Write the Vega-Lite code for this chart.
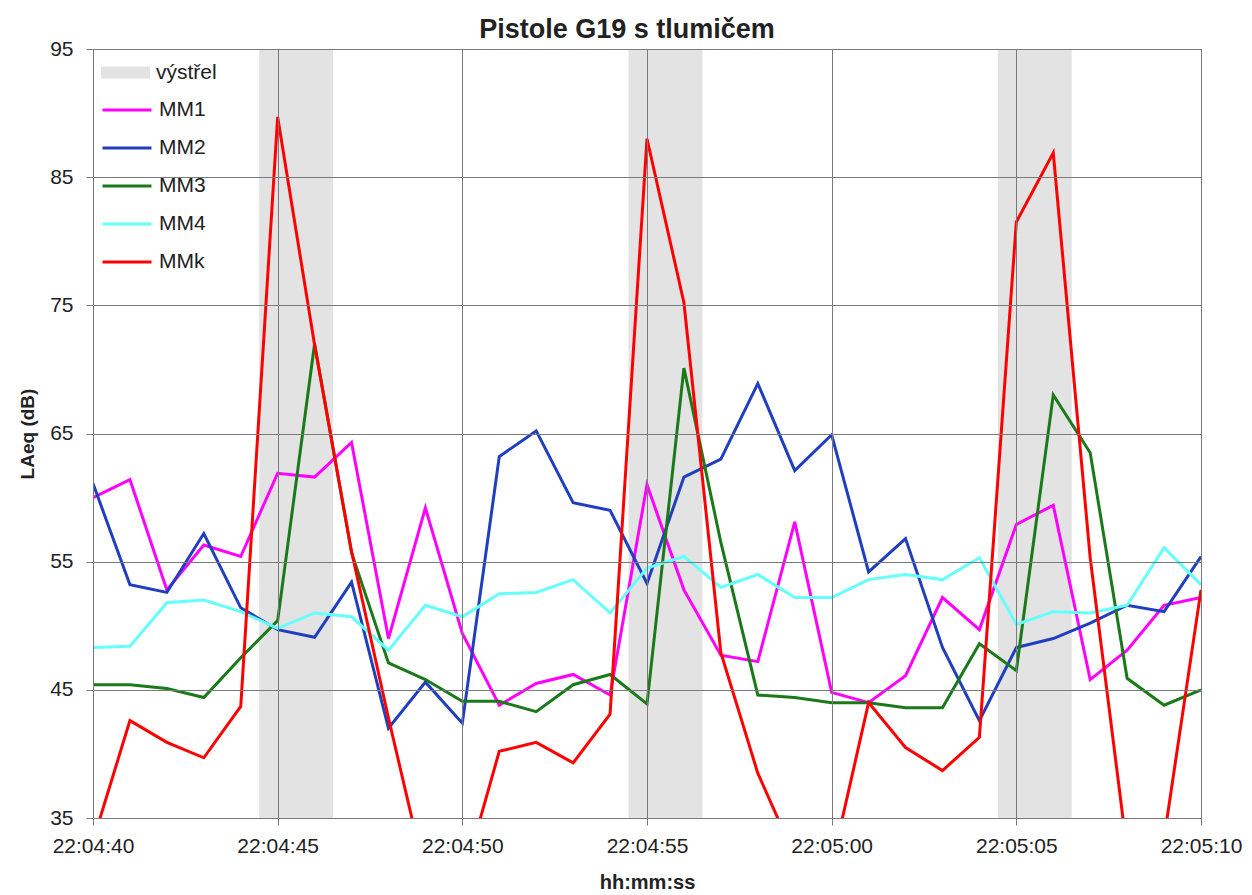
{
  "$schema": "https://vega.github.io/schema/vega-lite/v6.json",
  "width": 1108,
  "height": 769,
  "autosize": {"type": "none"},
  "padding": {"left": 93, "top": 49, "right": 51, "bottom": 77},
  "background": "white",
  "title": {"text": "Pistole G19 s tlumičem", "font": "Liberation Sans", "fontSize": 27, "fontWeight": "bold", "color": "#222222", "anchor": "middle", "offset": 10, "dx": -20, "dy": 16},
  "config": {
    "font": "Liberation Sans",
    "view": {"stroke": "#808080", "strokeWidth": 1}
  },
  "datasets": {
    "bands": [
      {"start": "2000-01-01T22:04:44.500", "end": "2000-01-01T22:04:46.500"},
      {"start": "2000-01-01T22:04:54.500", "end": "2000-01-01T22:04:56.500"},
      {"start": "2000-01-01T22:05:04.500", "end": "2000-01-01T22:05:06.500"}
    ],
    "series": [
      {"time": "2000-01-01T22:04:40", "MM1": 60.0, "MM2": 61.1, "MM3": 45.4, "MM4": 48.3, "MMk": 33.2},
      {"time": "2000-01-01T22:04:41", "MM1": 61.4, "MM2": 53.2, "MM3": 45.4, "MM4": 48.4, "MMk": 42.6},
      {"time": "2000-01-01T22:04:42", "MM1": 52.8, "MM2": 52.6, "MM3": 45.1, "MM4": 51.8, "MMk": 40.9},
      {"time": "2000-01-01T22:04:43", "MM1": 56.3, "MM2": 57.2, "MM3": 44.4, "MM4": 52.0, "MMk": 39.7},
      {"time": "2000-01-01T22:04:44", "MM1": 55.4, "MM2": 51.4, "MM3": 47.5, "MM4": 51.1, "MMk": 43.7},
      {"time": "2000-01-01T22:04:45", "MM1": 61.9, "MM2": 49.7, "MM3": 50.4, "MM4": 49.8, "MMk": 89.7},
      {"time": "2000-01-01T22:04:46", "MM1": 61.6, "MM2": 49.1, "MM3": 72.0, "MM4": 51.0, "MMk": 71.9},
      {"time": "2000-01-01T22:04:47", "MM1": 64.3, "MM2": 53.4, "MM3": 55.7, "MM4": 50.7, "MMk": 55.8},
      {"time": "2000-01-01T22:04:48", "MM1": 49.0, "MM2": 42.0, "MM3": 47.1, "MM4": 48.1, "MMk": 42.8},
      {"time": "2000-01-01T22:04:49", "MM1": 59.2, "MM2": 45.6, "MM3": 45.8, "MM4": 51.6, "MMk": 30.5},
      {"time": "2000-01-01T22:04:50", "MM1": 49.4, "MM2": 42.4, "MM3": 44.1, "MM4": 50.7, "MMk": 30.0},
      {"time": "2000-01-01T22:04:51", "MM1": 43.8, "MM2": 63.2, "MM3": 44.1, "MM4": 52.5, "MMk": 40.2},
      {"time": "2000-01-01T22:04:52", "MM1": 45.5, "MM2": 65.2, "MM3": 43.3, "MM4": 52.6, "MMk": 40.9},
      {"time": "2000-01-01T22:04:53", "MM1": 46.2, "MM2": 59.6, "MM3": 45.4, "MM4": 53.6, "MMk": 39.3},
      {"time": "2000-01-01T22:04:54", "MM1": 44.6, "MM2": 59.0, "MM3": 46.2, "MM4": 51.0, "MMk": 43.1},
      {"time": "2000-01-01T22:04:55", "MM1": 61.0, "MM2": 53.3, "MM3": 43.9, "MM4": 54.5, "MMk": 88.0},
      {"time": "2000-01-01T22:04:56", "MM1": 52.8, "MM2": 61.6, "MM3": 70.1, "MM4": 55.4, "MMk": 75.2},
      {"time": "2000-01-01T22:04:57", "MM1": 47.7, "MM2": 63.0, "MM3": 56.5, "MM4": 53.0, "MMk": 47.9},
      {"time": "2000-01-01T22:04:58", "MM1": 47.2, "MM2": 68.9, "MM3": 44.6, "MM4": 54.0, "MMk": 38.5},
      {"time": "2000-01-01T22:04:59", "MM1": 58.1, "MM2": 62.1, "MM3": 44.4, "MM4": 52.2, "MMk": 32.0},
      {"time": "2000-01-01T22:05:00", "MM1": 44.8, "MM2": 64.9, "MM3": 44.0, "MM4": 52.2, "MMk": 31.3},
      {"time": "2000-01-01T22:05:01", "MM1": 44.0, "MM2": 54.2, "MM3": 44.0, "MM4": 53.6, "MMk": 44.0},
      {"time": "2000-01-01T22:05:02", "MM1": 46.1, "MM2": 56.8, "MM3": 43.6, "MM4": 54.0, "MMk": 40.5},
      {"time": "2000-01-01T22:05:03", "MM1": 52.2, "MM2": 48.3, "MM3": 43.6, "MM4": 53.6, "MMk": 38.7},
      {"time": "2000-01-01T22:05:04", "MM1": 49.7, "MM2": 42.6, "MM3": 48.6, "MM4": 55.3, "MMk": 41.3},
      {"time": "2000-01-01T22:05:05", "MM1": 57.9, "MM2": 48.3, "MM3": 46.5, "MM4": 50.1, "MMk": 81.5},
      {"time": "2000-01-01T22:05:06", "MM1": 59.4, "MM2": 49.0, "MM3": 68.0, "MM4": 51.1, "MMk": 86.9},
      {"time": "2000-01-01T22:05:07", "MM1": 45.8, "MM2": 50.2, "MM3": 63.5, "MM4": 51.0, "MMk": 55.3},
      {"time": "2000-01-01T22:05:08", "MM1": 48.1, "MM2": 51.6, "MM3": 45.9, "MM4": 51.6, "MMk": 32.4},
      {"time": "2000-01-01T22:05:09", "MM1": 51.6, "MM2": 51.1, "MM3": 43.8, "MM4": 56.1, "MMk": 33.4},
      {"time": "2000-01-01T22:05:10", "MM1": 52.2, "MM2": 55.4, "MM3": 45.0, "MM4": 53.2, "MMk": 52.8}
    ]
  },
  "layer": [
    {
      "data": {"name": "bands"},
      "mark": {"type": "rect"},
      "encoding": {
        "x": {"field": "start", "type": "temporal"},
        "x2": {"field": "end"},
        "fill": {
          "datum": "výstřel",
          "type": "nominal",
          "scale": {"domain": ["výstřel"], "range": ["#e3e3e3"]},
          "legend": {
            "orient": "none",
            "legendX": 8,
            "legendY": -1,
            "title": null,
            "padding": 0,
            "symbolType": "M-1,-0.24H1V0.24H-1Z",
            "symbolSize": 2400,
            "symbolStrokeWidth": 0,
            "labelFont": "Liberation Sans",
            "labelFontSize": 21,
            "labelColor": "#222222",
            "labelOffset": 6
          }
        }
      }
    },
    {
      "data": {"name": "series"},
      "transform": [{"fold": ["MM1", "MM2", "MM3", "MM4", "MMk"], "as": ["series", "value"]}],
      "mark": {"type": "line", "strokeWidth": 3, "clip": true},
      "encoding": {
        "x": {
          "field": "time",
          "type": "temporal",
          "scale": {"nice": false},
          "axis": {
            "title": "hh:mm:ss",
            "format": "%H:%M:%S",
            "tickCount": 6,
            "labelFont": "Liberation Sans",
            "labelFontSize": 21,
            "labelColor": "#222222",
            "labelPadding": 10,
            "labelFlush": false,
            "titleFont": "Liberation Sans",
            "titleFontSize": 20,
            "titleFontWeight": "bold",
            "titleColor": "#222222",
            "titlePadding": 16,
            "grid": true,
            "gridColor": "#7a7a7a",
            "gridOpacity": 1,
            "gridWidth": 1,
            "domainColor": "#7a7a7a",
            "tickColor": "#7a7a7a",
            "tickSize": 7,
            "zindex": 1
          }
        },
        "y": {
          "field": "value",
          "type": "quantitative",
          "scale": {"domain": [35, 95], "nice": false, "zero": false},
          "axis": {
            "title": "LAeq (dB)",
            "values": [35, 45, 55, 65, 75, 85, 95],
            "labelFont": "Liberation Sans",
            "labelFontSize": 21,
            "labelColor": "#222222",
            "labelPadding": 13,
            "titleFont": "Liberation Sans",
            "titleFontSize": 19,
            "titleFontWeight": "bold",
            "titleColor": "#222222",
            "titlePadding": 12,
            "grid": true,
            "gridColor": "#7a7a7a",
            "gridOpacity": 1,
            "gridWidth": 1,
            "domainColor": "#7a7a7a",
            "tickColor": "#7a7a7a",
            "tickSize": 7,
            "zindex": 1
          }
        },
        "stroke": {
          "field": "series",
          "type": "nominal",
          "scale": {
            "domain": ["MM1", "MM2", "MM3", "MM4", "MMk"],
            "range": ["#ff00ff", "#1f3fbf", "#1a7a1a", "#66ffff", "#ff0000"]
          },
          "legend": {
            "orient": "none",
            "legendX": 8,
            "legendY": 35,
            "title": null,
            "padding": 0,
            "symbolType": "stroke",
            "symbolSize": 2400,
            "symbolStrokeWidth": 3,
            "labelFont": "Liberation Sans",
            "labelFontSize": 21,
            "labelColor": "#222222",
            "labelOffset": 6,
            "rowPadding": 2
          }
        }
      }
    }
  ]
}
